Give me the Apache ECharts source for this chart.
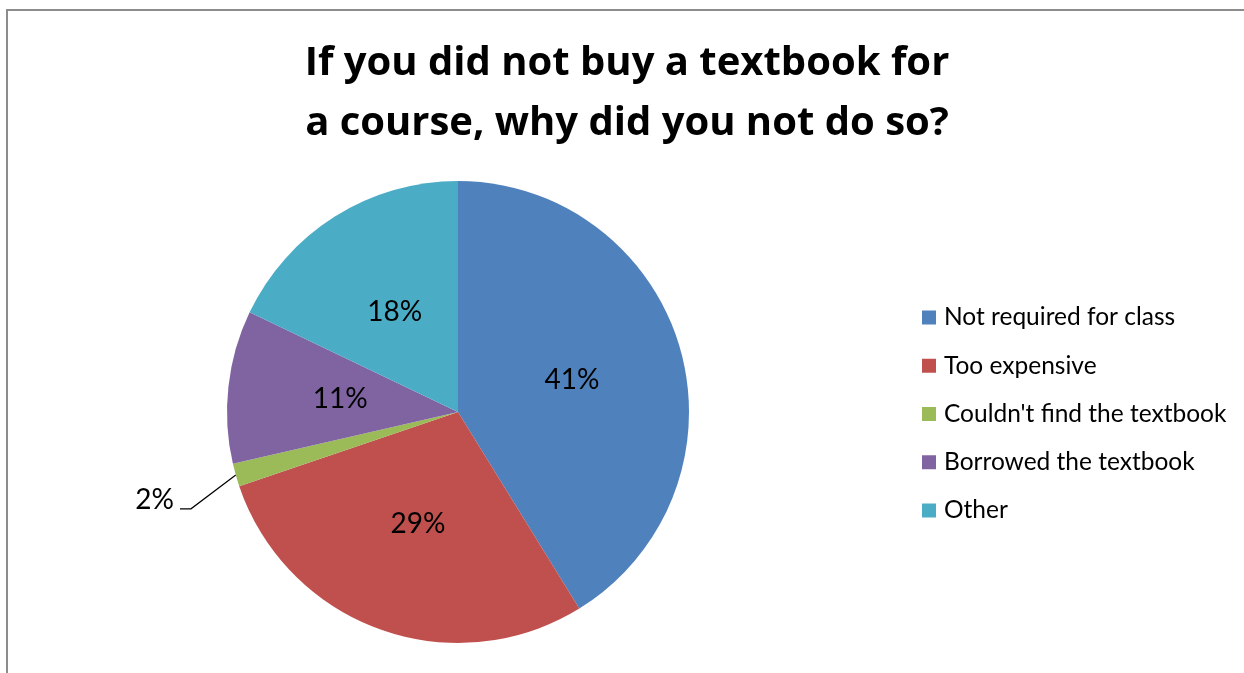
<!DOCTYPE html>
<html>
<head>
<meta charset="utf-8">
<script src="https://cdn.jsdelivr.net/npm/echarts@6/dist/echarts.min.js"></script>
<style>
html,body{margin:0;padding:0;background:#fff;}
#c{width:1244px;height:673px;}
</style>
</head>
<body>
<div id="c"></div>
<script>
var titleText = "If you did not buy a textbook for\na course, why did you not do so?";
var categories = ["Not required for class", "Too expensive", "Couldn't find the textbook", "Borrowed the textbook", "Other"];
var values = [41.2, 28.6, 1.6, 10.7, 17.9];
var colors = ["#4F81BD", "#C0504D", "#9BBB59", "#8064A2", "#4BACC6"];

var FONT = "Lato";
var chart = echarts.init(document.getElementById('c'));
var data = categories.map(function (name, i) {
  var item = { name: name, value: values[i], itemStyle: { color: colors[i] } };
  if (i === 2) {
    item.label = { position: 'outside' };
    item.labelLine = { show: true, length: 32, length2: 14, lineStyle: { color: '#000', width: 1.2 } };
  }
  return item;
});
var total = values.reduce(function (a, b) { return a + b; }, 0);

chart.setOption({
  animation: false,
  backgroundColor: '#fff',
  graphic: [{
    type: 'rect',
    shape: { x: 7, y: 10, width: 1400, height: 800 },
    style: { fill: 'none', stroke: '#8c8c8c', lineWidth: 2 },
    silent: true
  }],
  title: {
    text: titleText,
    left: 622,
    top: 29,
    textAlign: 'center',
    textStyle: { fontFamily: 'Open Sans', fontWeight: 'bold', fontSize: 40, lineHeight: 60, color: '#000' }
  },
  legend: {
    orient: 'vertical',
    left: 917,
    top: 300,
    icon: 'rect',
    itemWidth: 14,
    itemHeight: 14,
    itemGap: 23.25,
    data: categories,
    textStyle: { fontFamily: FONT, fontSize: 24.5, lineHeight: 24, color: '#000', padding: [0, 0, 0, 3] }
  },
  series: [{
    type: 'pie',
    center: [458, 412],
    radius: [0, 231],
    startAngle: 90,
    clockwise: true,
    avoidLabelOverlap: false,
    itemStyle: { borderWidth: 0 },
    label: {
      show: true,
      position: 'inside',
      fontFamily: FONT,
      fontSize: 28,
      color: '#000',
      formatter: function (p) { return Math.round(p.value / total * 100) + '%'; }
    },
    labelLine: { show: false },
    labelLayout: function (p) {
      if (p.dataIndex !== 2 || !p.labelLinePoints) return {};
      var dx = -12, dy = 16;
      var r = p.labelRect;
      var start = p.labelLinePoints[0];
      var ex = r.x + dx + r.width + 6;
      var ey = r.y + dy + r.height / 2 + 9;
      return {
        dx: dx,
        dy: dy,
        labelLinePoints: [start, [ex + 11, ey], [ex, ey]]
      };
    },
    emphasis: { disabled: true },
    data: data
  }]
});
</script>
</body>
</html>
